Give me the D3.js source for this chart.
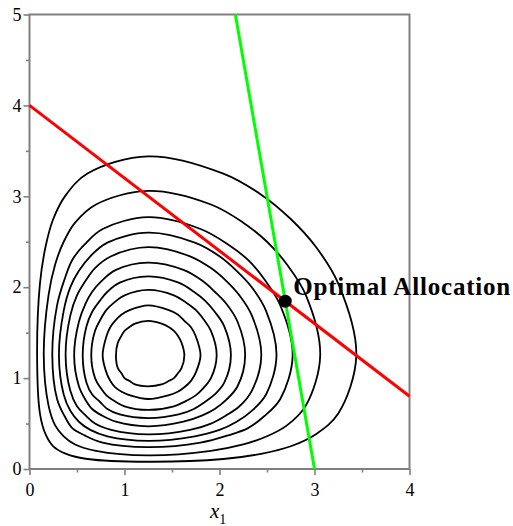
<!DOCTYPE html>
<html>
<head>
<meta charset="utf-8">
<script src="https://cdn.jsdelivr.net/npm/d3@7"></script>
<style>
body{margin:0;background:#fff;}
svg{display:block;}
</style>
</head>
<body>
<script>
// level curves, outer (1) to inner (10) in data units
var contour1 = [[1.25,0.08],[2.04,0.11],[2.45,0.17],[2.75,0.25],[3.01,0.38],[3.25,0.61],[3.44,1.25],[3.25,2.04],[3.01,2.45],[2.75,2.75],[2.45,3.01],[2.04,3.25],[1.25,3.44],[0.61,3.25],[0.38,3.01],[0.25,2.75],[0.17,2.45],[0.11,2.04],[0.08,1.25],[0.11,0.61],[0.17,0.38],[0.25,0.25],[0.38,0.17],[0.61,0.11]];
var contour2 = [[1.25,0.15],[1.91,0.20],[2.25,0.27],[2.50,0.36],[2.71,0.48],[2.91,0.70],[3.06,1.25],[2.91,1.91],[2.71,2.25],[2.50,2.50],[2.25,2.71],[1.91,2.91],[1.25,3.06],[0.70,2.91],[0.48,2.71],[0.36,2.50],[0.27,2.25],[0.20,1.91],[0.15,1.25],[0.20,0.70],[0.27,0.48],[0.36,0.36],[0.48,0.27],[0.70,0.20]];
var contour3 = [[1.25,0.24],[1.80,0.29],[2.09,0.37],[2.30,0.45],[2.47,0.58],[2.64,0.77],[2.77,1.25],[2.64,1.80],[2.47,2.09],[2.30,2.30],[2.09,2.47],[1.80,2.64],[1.25,2.77],[0.77,2.64],[0.58,2.47],[0.45,2.30],[0.37,2.09],[0.29,1.80],[0.24,1.25],[0.29,0.77],[0.37,0.58],[0.45,0.45],[0.58,0.37],[0.77,0.29]];
var contour4 = [[1.25,0.31],[1.74,0.36],[2.00,0.43],[2.18,0.52],[2.34,0.64],[2.49,0.82],[2.60,1.25],[2.49,1.74],[2.34,2.00],[2.18,2.18],[2.00,2.34],[1.74,2.49],[1.25,2.60],[0.82,2.49],[0.64,2.34],[0.52,2.18],[0.43,2.00],[0.36,1.74],[0.31,1.25],[0.36,0.82],[0.43,0.64],[0.52,0.52],[0.64,0.43],[0.82,0.36]];
var contour5 = [[1.25,0.38],[1.69,0.43],[1.91,0.50],[2.07,0.59],[2.21,0.69],[2.34,0.86],[2.44,1.25],[2.34,1.69],[2.21,1.91],[2.07,2.07],[1.91,2.21],[1.69,2.34],[1.25,2.44],[0.86,2.34],[0.69,2.21],[0.59,2.07],[0.50,1.91],[0.43,1.69],[0.38,1.25],[0.43,0.86],[0.50,0.69],[0.59,0.59],[0.69,0.50],[0.86,0.43]];
var contour6 = [[1.25,0.47],[1.62,0.52],[1.82,0.59],[1.95,0.66],[2.07,0.76],[2.19,0.91],[2.27,1.25],[2.19,1.62],[2.07,1.82],[1.95,1.95],[1.82,2.07],[1.62,2.19],[1.25,2.27],[0.91,2.19],[0.76,2.07],[0.66,1.95],[0.59,1.82],[0.52,1.62],[0.47,1.25],[0.52,0.91],[0.59,0.76],[0.66,0.66],[0.76,0.59],[0.91,0.52]];
var contour7 = [[1.25,0.56],[1.57,0.60],[1.73,0.66],[1.85,0.74],[1.95,0.82],[2.05,0.95],[2.12,1.25],[2.05,1.57],[1.95,1.73],[1.85,1.85],[1.73,1.95],[1.57,2.05],[1.25,2.12],[0.95,2.05],[0.82,1.95],[0.74,1.85],[0.66,1.73],[0.60,1.57],[0.56,1.25],[0.60,0.95],[0.66,0.82],[0.74,0.74],[0.82,0.66],[0.95,0.60]];
var contour8 = [[1.25,0.65],[1.52,0.69],[1.65,0.75],[1.75,0.81],[1.83,0.89],[1.91,1.00],[1.97,1.25],[1.91,1.52],[1.83,1.65],[1.75,1.75],[1.65,1.83],[1.52,1.91],[1.25,1.97],[1.00,1.91],[0.89,1.83],[0.81,1.75],[0.75,1.65],[0.69,1.52],[0.65,1.25],[0.69,1.00],[0.75,0.89],[0.81,0.81],[0.89,0.75],[1.00,0.69]];
var contour9 = [[1.25,0.77],[1.46,0.81],[1.56,0.85],[1.63,0.90],[1.70,0.97],[1.75,1.06],[1.80,1.25],[1.75,1.46],[1.70,1.56],[1.63,1.63],[1.56,1.70],[1.46,1.75],[1.25,1.80],[1.06,1.75],[0.97,1.70],[0.90,1.63],[0.85,1.56],[0.81,1.46],[0.77,1.25],[0.81,1.06],[0.85,0.97],[0.90,0.90],[0.97,0.85],[1.06,0.81]];
var contour10 = [[1.25,0.91],[1.39,0.93],[1.47,0.97],[1.52,1.00],[1.56,1.05],[1.60,1.11],[1.63,1.25],[1.60,1.39],[1.56,1.47],[1.52,1.52],[1.47,1.56],[1.39,1.60],[1.25,1.63],[1.11,1.60],[1.05,1.56],[1.00,1.52],[0.97,1.47],[0.93,1.39],[0.91,1.25],[0.93,1.11],[0.97,1.05],[1.00,1.00],[1.05,0.97],[1.11,0.93]];

var redLine = [[0,4],[4,0.8]];
var greenLine = [[2.167,5],[3,0]];
var optimum = [2.692,1.846];
var optimumLabel = 'Optimal Allocation';

var xTicks = [0,1,2,3,4];
var xMinor = [0.5,1.5,2.5,3.5];
var yTicks = [0,1,2,3,4,5];
var yMinor = [0.5,1.5,2.5,3.5,4.5];

var width = 513;
var height = 526;
var serif = '"Liberation Serif","Times New Roman",serif';
var axisGray = '#808080';

var x = d3.scaleLinear().domain([0,4]).range([29.5,409.5]);
var y = d3.scaleLinear().domain([0,5]).range([469,14.5]);

var svg = d3.select('body').append('svg').attr('width',width).attr('height',height);

// frame
svg.append('rect')
	.attr('x',x(0)).attr('y',y(5))
	.attr('width',x(4)-x(0)).attr('height',y(0)-y(5))
	.attr('fill','none').attr('stroke',axisGray).attr('stroke-width',2);

function styleAxis(g){
	g.select('.domain').remove();
	g.selectAll('line').attr('stroke',axisGray).attr('stroke-width',1.6);
	g.selectAll('text').attr('fill','#000').style('font-family',serif).style('font-size','18px');
}

svg.append('g').attr('transform',`translate(0,${y(0)})`)
	.call(d3.axisBottom(x).tickValues(xTicks).tickSize(6).tickPadding(8).tickFormat(d3.format('d')))
	.call(styleAxis);
svg.append('g').attr('transform',`translate(0,${y(0)})`)
	.call(d3.axisBottom(x).tickValues(xMinor).tickSize(3.5).tickFormat(''))
	.call(styleAxis);
svg.append('g').attr('transform',`translate(${x(0)},0)`)
	.call(d3.axisLeft(y).tickValues(yTicks).tickSize(6).tickPadding(2).tickFormat(d3.format('d')))
	.call(styleAxis);
svg.append('g').attr('transform',`translate(${x(0)},0)`)
	.call(d3.axisLeft(y).tickValues(yMinor).tickSize(3.5).tickFormat(''))
	.call(styleAxis);

// x axis title
var title = svg.append('text').attr('x',210).attr('y',518)
	.style('font-family',serif).attr('fill','#000');
title.append('tspan').text('x').style('font-style','italic').style('font-size','21px');
title.append('tspan').text('1').attr('dy',6).style('font-size','14px');

// contours
var contourLine = d3.line()
	.x(d=>x(d[0]))
	.y(d=>y(d[1]))
	.curve(d3.curveCatmullRomClosed.alpha(0.5));

var contours = [contour1,contour2,contour3,contour4,contour5,contour6,contour7,contour8,contour9,contour10];

svg.append('g').selectAll('path.contour')
	.data(contours)
	.enter().append('path')
		.attr('class','contour')
		.attr('d',d=>contourLine(d))
		.attr('fill','none')
		.attr('stroke','#000')
		.attr('stroke-width',1.8);

var straight = d3.line().x(d=>x(d[0])).y(d=>y(d[1]));

svg.append('path').attr('d',straight(redLine))
	.attr('fill','none').attr('stroke','#ff0000').attr('stroke-width',3);
svg.append('path').attr('d',straight(greenLine))
	.attr('fill','none').attr('stroke','#00ff00').attr('stroke-width',3);

svg.append('circle')
	.attr('cx',x(optimum[0])).attr('cy',y(optimum[1])).attr('r',6.5)
	.attr('fill','#000');

svg.append('text')
	.attr('x',x(optimum[0])+8).attr('y',y(optimum[1])-6)
	.attr('textLength',217).attr('lengthAdjust','spacing')
	.style('font-family',serif).style('font-weight','bold').style('font-size','25px')
	.attr('fill','#000')
	.text(optimumLabel);
</script>
</body>
</html>
